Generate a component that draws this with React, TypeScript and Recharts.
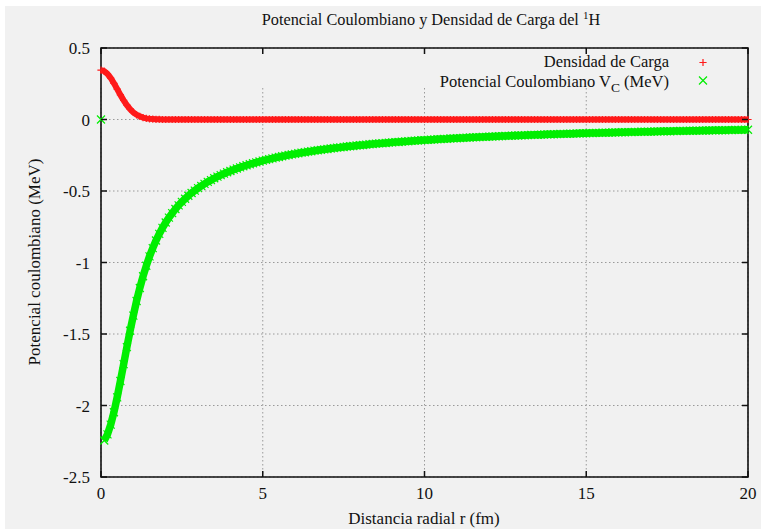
import React from 'react';
import { ScatterChart, Scatter, XAxis, YAxis, CartesianGrid, ReferenceArea } from 'recharts';

// Radial sampling grid r (fm)
const radii = [
  0, 0.1, 0.2, 0.3, 0.4, 0.5, 0.6, 0.7, 0.8, 0.9,
  1, 1.1, 1.2, 1.3, 1.4, 1.5, 1.6, 1.7, 1.8, 1.9,
  2, 2.1, 2.2, 2.3, 2.4, 2.5, 2.6, 2.7, 2.8, 2.9,
  3, 3.1, 3.2, 3.3, 3.4, 3.5, 3.6, 3.7, 3.8, 3.9,
  4, 4.1, 4.2, 4.3, 4.4, 4.5, 4.6, 4.7, 4.8, 4.9,
  5, 5.1, 5.2, 5.3, 5.4, 5.5, 5.6, 5.7, 5.8, 5.9,
  6, 6.1, 6.2, 6.3, 6.4, 6.5, 6.6, 6.7, 6.8, 6.9,
  7, 7.1, 7.2, 7.3, 7.4, 7.5, 7.6, 7.7, 7.8, 7.9,
  8, 8.1, 8.2, 8.3, 8.4, 8.5, 8.6, 8.7, 8.8, 8.9,
  9, 9.1, 9.2, 9.3, 9.4, 9.5, 9.6, 9.7, 9.8, 9.9,
  10, 10.1, 10.2, 10.3, 10.4, 10.5, 10.6, 10.7, 10.8, 10.9,
  11, 11.1, 11.2, 11.3, 11.4, 11.5, 11.6, 11.7, 11.8, 11.9,
  12, 12.1, 12.2, 12.3, 12.4, 12.5, 12.6, 12.7, 12.8, 12.9,
  13, 13.1, 13.2, 13.3, 13.4, 13.5, 13.6, 13.7, 13.8, 13.9,
  14, 14.1, 14.2, 14.3, 14.4, 14.5, 14.6, 14.7, 14.8, 14.9,
  15, 15.1, 15.2, 15.3, 15.4, 15.5, 15.6, 15.7, 15.8, 15.9,
  16, 16.1, 16.2, 16.3, 16.4, 16.5, 16.6, 16.7, 16.8, 16.9,
  17, 17.1, 17.2, 17.3, 17.4, 17.5, 17.6, 17.7, 17.8, 17.9,
  18, 18.1, 18.2, 18.3, 18.4, 18.5, 18.6, 18.7, 18.8, 18.9,
  19, 19.1, 19.2, 19.3, 19.4, 19.5, 19.6, 19.7, 19.8, 19.9,
  20,
];

// Charge density of the proton
const chargeDensity = [
  0.345, 0.338, 0.319, 0.290, 0.253, 0.213, 0.172, 0.134, 0.100, 0.072,
  0.050, 0.033, 0.022, 0.013, 0.008, 0.005, 0.003, 0.001, 0.001, 0.000,
  0, 0, 0, 0, 0, 0, 0, 0, 0, 0,
  0, 0, 0, 0, 0, 0, 0, 0, 0, 0,
  0, 0, 0, 0, 0, 0, 0, 0, 0, 0,
  0, 0, 0, 0, 0, 0, 0, 0, 0, 0,
  0, 0, 0, 0, 0, 0, 0, 0, 0, 0,
  0, 0, 0, 0, 0, 0, 0, 0, 0, 0,
  0, 0, 0, 0, 0, 0, 0, 0, 0, 0,
  0, 0, 0, 0, 0, 0, 0, 0, 0, 0,
  0, 0, 0, 0, 0, 0, 0, 0, 0, 0,
  0, 0, 0, 0, 0, 0, 0, 0, 0, 0,
  0, 0, 0, 0, 0, 0, 0, 0, 0, 0,
  0, 0, 0, 0, 0, 0, 0, 0, 0, 0,
  0, 0, 0, 0, 0, 0, 0, 0, 0, 0,
  0, 0, 0, 0, 0, 0, 0, 0, 0, 0,
  0, 0, 0, 0, 0, 0, 0, 0, 0, 0,
  0, 0, 0, 0, 0, 0, 0, 0, 0, 0,
  0, 0, 0, 0, 0, 0, 0, 0, 0, 0,
  0, 0, 0, 0, 0, 0, 0, 0, 0, 0,
  0,
];

// Coulomb potential V_C (MeV)
const coulombPotential = [
  0, -2.245, -2.202, -2.134, -2.047, -1.943, -1.829, -1.711, -1.592, -1.477,
  -1.371, -1.269, -1.178, -1.096, -1.023, -0.957, -0.899, -0.846, -0.800, -0.758,
  -0.720, -0.686, -0.655, -0.626, -0.600, -0.576, -0.554, -0.533, -0.514, -0.497,
  -0.480, -0.465, -0.450, -0.436, -0.424, -0.411, -0.400, -0.389, -0.379, -0.369,
  -0.360, -0.351, -0.343, -0.335, -0.327, -0.320, -0.313, -0.306, -0.300, -0.294,
  -0.288, -0.282, -0.277, -0.272, -0.267, -0.262, -0.257, -0.253, -0.248, -0.244,
  -0.240, -0.236, -0.232, -0.229, -0.225, -0.222, -0.218, -0.215, -0.212, -0.209,
  -0.206, -0.203, -0.200, -0.197, -0.195, -0.192, -0.189, -0.187, -0.185, -0.182,
  -0.180, -0.178, -0.176, -0.173, -0.171, -0.169, -0.167, -0.166, -0.164, -0.162,
  -0.160, -0.158, -0.157, -0.155, -0.153, -0.152, -0.150, -0.148, -0.147, -0.145,
  -0.144, -0.143, -0.141, -0.140, -0.138, -0.137, -0.136, -0.135, -0.133, -0.132,
  -0.131, -0.130, -0.129, -0.127, -0.126, -0.125, -0.124, -0.123, -0.122, -0.121,
  -0.120, -0.119, -0.118, -0.117, -0.116, -0.115, -0.114, -0.113, -0.112, -0.112,
  -0.111, -0.110, -0.109, -0.108, -0.107, -0.107, -0.106, -0.105, -0.104, -0.104,
  -0.103, -0.102, -0.101, -0.101, -0.100, -0.099, -0.099, -0.098, -0.097, -0.097,
  -0.096, -0.095, -0.095, -0.094, -0.094, -0.093, -0.092, -0.092, -0.091, -0.091,
  -0.090, -0.089, -0.089, -0.088, -0.088, -0.087, -0.087, -0.086, -0.086, -0.085,
  -0.085, -0.084, -0.084, -0.083, -0.083, -0.082, -0.082, -0.081, -0.081, -0.080,
  -0.080, -0.080, -0.079, -0.079, -0.078, -0.078, -0.077, -0.077, -0.077, -0.076,
  -0.076, -0.075, -0.075, -0.075, -0.074, -0.074, -0.073, -0.073, -0.073, -0.072,
  -0.072,
];

const xTicks = [0, 5, 10, 15, 20];
const yTicks = [-2.5, -2, -1.5, -1, -0.5, 0, 0.5];

const RED = '#ff1a1a';
const GREEN = '#00ee00';
const FONT = '"Liberation Serif", "Times New Roman", serif';
const W = 761;
const H = 529;
const PLOT_TOP = 48;
const PLOT_RIGHT = 748;
const TICK = 6;
const KEY_BOTTOM = 88;

const densityPoints = radii.map((r, i) => ({ r, v: chargeDensity[i] }));
const potentialPoints = radii.map((r, i) => ({ r, v: coulombPotential[i] }));
const potentialAtOrigin = potentialPoints.slice(0, 1);
const potentialCurve = potentialPoints.slice(1);

const PlusMark = (props: any) => {
  const { cx, cy } = props;
  const s = 3.6;
  return (
    <path
      d={`M${cx - s},${cy}H${cx + s}M${cx},${cy - s}V${cy + s}`}
      stroke={RED}
      strokeWidth={1.2}
      fill="none"
    />
  );
};

const CrossMark = (props: any) => {
  const { cx, cy } = props;
  const s = 4;
  return (
    <path
      d={`M${cx - s},${cy - s}L${cx + s},${cy + s}M${cx - s},${cy + s}L${cx + s},${cy - s}`}
      stroke={GREEN}
      strokeWidth={1.2}
      fill="none"
    />
  );
};

const XTick = (props: any) => {
  const { x, y, payload } = props;
  return (
    <g>
      <line x1={x} y1={y} x2={x} y2={y - TICK} stroke="#111" strokeWidth={1.5} />
      <line x1={x} y1={PLOT_TOP} x2={x} y2={PLOT_TOP + TICK} stroke="#111" strokeWidth={1.5} />
      <text x={x} y={y + 22} textAnchor="middle" fontFamily={FONT} fontSize={17} fill="#111">
        {payload.value}
      </text>
    </g>
  );
};

const YTick = (props: any) => {
  const { x, y, payload } = props;
  return (
    <g>
      <line x1={x} y1={y} x2={x + TICK} y2={y} stroke="#111" strokeWidth={1.5} />
      <line x1={PLOT_RIGHT} y1={y} x2={PLOT_RIGHT - TICK} y2={y} stroke="#111" strokeWidth={1.5} />
      <text x={x - 11} y={y + 6} textAnchor="end" fontFamily={FONT} fontSize={17} fill="#111">
        {payload.value}
      </text>
    </g>
  );
};

const gridStyle = { stroke: '#9a9a9a', strokeWidth: 1, strokeDasharray: '1.5 2.5' };

const VerticalGridLine = (props: any) => {
  const { x1, x2, y2 } = props;
  return <line x1={x1} x2={x2} y1={KEY_BOTTOM} y2={y2} {...gridStyle} />;
};

const HorizontalGridLine = (props: any) => {
  const { x1, x2, y1, y2 } = props;
  return <line x1={x1} x2={x2} y1={y1} y2={y2} {...gridStyle} />;
};

const legendLine = {
  position: 'absolute' as const,
  right: W - 669,
  textAlign: 'right' as const,
  fontSize: 16.5,
  color: '#111',
  lineHeight: '15px',
  whiteSpace: 'nowrap' as const,
};

export default function App() {
  return (
    <div style={{ position: 'absolute', left: 0, top: 0, width: W, height: H, background: '#ffffff', fontFamily: FONT }}>
      <div style={{ position: 'absolute', left: 5, top: 6, right: 0, bottom: 0, background: '#f1f1f1' }} />
      <div style={{ position: 'absolute', left: 0, top: 0 }}>
        <ScatterChart width={W} height={H} margin={{ top: PLOT_TOP, right: W - PLOT_RIGHT, bottom: 22, left: 51 }}>
          <CartesianGrid horizontal={HorizontalGridLine} vertical={VerticalGridLine} />
          <XAxis
            type="number"
            dataKey="r"
            domain={[0, 20]}
            ticks={xTicks}
            interval={0}
            axisLine={false}
            tickLine={false}
            tickSize={0}
            tickMargin={0}
            height={30}
            tick={XTick}
          />
          <YAxis
            type="number"
            dataKey="v"
            domain={[-2.5, 0.5]}
            ticks={yTicks}
            interval={0}
            axisLine={false}
            tickLine={false}
            tickSize={0}
            tickMargin={0}
            width={50}
            tick={YTick}
          />
          <Scatter
            data={densityPoints}
            shape={PlusMark}
            line={{ stroke: RED, strokeWidth: 6 }}
            isAnimationActive={false}
          />
          <Scatter data={potentialAtOrigin} shape={CrossMark} isAnimationActive={false} />
          <Scatter
            data={potentialCurve}
            shape={CrossMark}
            line={{ stroke: GREEN, strokeWidth: 7.5 }}
            isAnimationActive={false}
          />
          <ReferenceArea x1={0} x2={20} y1={-2.5} y2={0.5} fill="none" fillOpacity={0} stroke="#111" strokeWidth={1.6} />
        </ScatterChart>
      </div>

      <div
        style={{
          position: 'absolute', left: 431, top: 19, transform: 'translate(-50%, -50%)',
          whiteSpace: 'nowrap', fontSize: 16.3, color: '#111',
        }}
      >
        Potencial Coulombiano y Densidad de Carga del <sup style={{ fontSize: 11, verticalAlign: '6px' }}>1</sup>H
      </div>

      <div
        style={{
          position: 'absolute', left: 35, top: 262, transform: 'translate(-50%, -50%) rotate(-90deg)',
          whiteSpace: 'nowrap', fontSize: 17, color: '#111',
        }}
      >
        Potencial coulombiano (MeV)
      </div>

      <div
        style={{
          position: 'absolute', left: 424, top: 519, transform: 'translate(-50%, -50%)',
          whiteSpace: 'nowrap', fontSize: 17, color: '#111',
        }}
      >
        Distancia radial r (fm)
      </div>

      <div style={{ ...legendLine, top: 54 }}>Densidad de Carga</div>
      <div style={{ ...legendLine, top: 73.5 }}>
        Potencial Coulombiano V<sub style={{ fontSize: 13.5, verticalAlign: '-5px', lineHeight: 0 }}>C</sub> (MeV)
      </div>
      <svg style={{ position: 'absolute', left: 0, top: 0 }} width={W} height={H} pointerEvents="none">
        <PlusMark cx={703} cy={62.5} />
        <CrossMark cx={703} cy={80.5} />
      </svg>
    </div>
  );
}
